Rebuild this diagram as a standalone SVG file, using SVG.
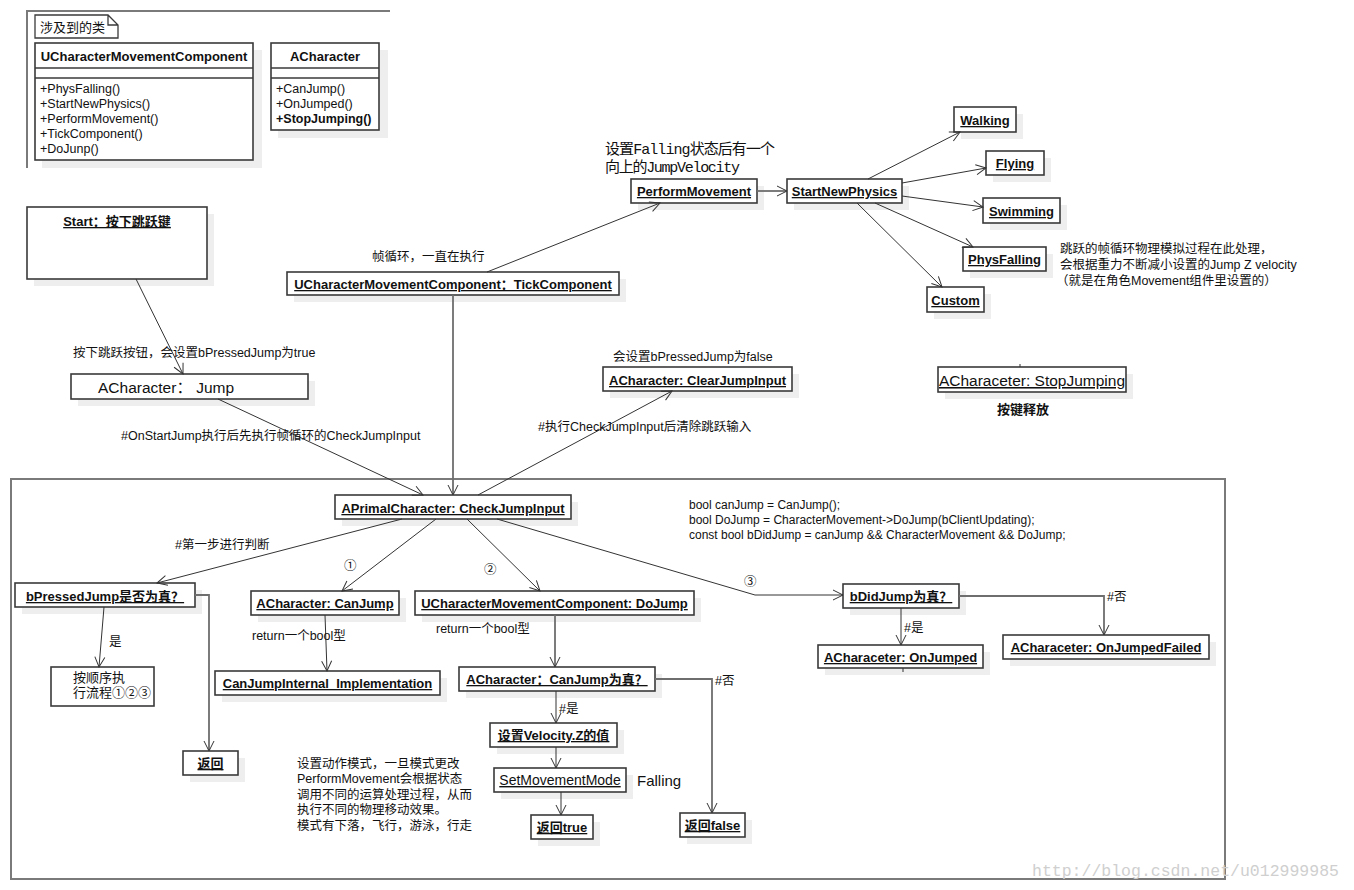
<svg xmlns="http://www.w3.org/2000/svg" width="1354" height="890" viewBox="0 0 1354 890">
<style>
text{font-family:"Liberation Sans",Arial,"Noto Sans CJK SC",sans-serif;fill:#111}
.b{font-weight:bold;font-size:13px;text-decoration:underline;text-anchor:middle}
.t{font-size:12.5px}
.m{font-size:12.5px}
.box{fill:#fff;stroke:#3a3a3a;stroke-width:1.6}
.sh{fill:#eeeeee}
.ln{fill:none;stroke:#333;stroke-width:1}
.lg{fill:none;stroke:#6e6e6e;stroke-width:1.8}
.frame{fill:none;stroke:#7a7a7a;stroke-width:2}
.mono{font-family:"Liberation Mono","Noto Sans CJK SC",monospace;font-size:15px}
</style>
<defs>
<marker id="a" markerUnits="userSpaceOnUse" markerWidth="14" markerHeight="14" refX="11" refY="6" orient="auto">
<path d="M1,1 L11,6 L1,11" fill="none" stroke="#333" stroke-width="1"/>
</marker>
</defs>
<rect width="1354" height="890" fill="#fff"/>

<!-- frames -->
<path class="frame" d="M27,168 L27,11 L390,11"/>
<rect class="frame" x="11" y="479" width="1214" height="400"/>

<!-- classes -->
<g id="note-classes">
<path d="M35,15 L108,15 L118,25 L118,38 L35,38 Z M108,15 L108,25 L118,25" fill="#fff" stroke="#3a3a3a" stroke-width="1.3"/>
<text x="40" y="32" font-size="13">涉及到的类</text>
</g>
<g id="class-ucmc">
<rect class="sh" x="42" y="50" width="220" height="118"/>
<rect class="box" x="35" y="43" width="218" height="117"/>
<line x1="35" y1="68" x2="253" y2="68" stroke="#3a3a3a" stroke-width="1.4"/>
<line x1="35" y1="78" x2="253" y2="78" stroke="#3a3a3a" stroke-width="1.4"/>
<text x="144" y="61" font-size="13" font-weight="bold" text-anchor="middle">UCharacterMovementComponent</text>
<text x="40" y="93" class="m">+PhysFalling()</text>
<text x="40" y="108" class="m">+StartNewPhysics()</text>
<text x="40" y="123" class="m">+PerformMovement()</text>
<text x="40" y="138" class="m">+TickComponent()</text>
<text x="40" y="153" class="m">+DoJunp()</text>
</g>
<g id="class-acharacter">
<rect class="sh" x="278" y="50" width="110" height="88"/>
<rect class="box" x="271" y="43" width="108" height="87"/>
<line x1="271" y1="68" x2="379" y2="68" stroke="#3a3a3a" stroke-width="1.4"/>
<line x1="271" y1="78" x2="379" y2="78" stroke="#3a3a3a" stroke-width="1.4"/>
<text x="325" y="61" font-size="13" font-weight="bold" text-anchor="middle">ACharacter</text>
<text x="276" y="93" class="m">+CanJump()</text>
<text x="276" y="108" class="m">+OnJumped()</text>
<text x="276" y="123" class="m" font-weight="bold">+StopJumping()</text>
</g>

<!-- nodes -->
<g id="start">
<rect class="sh" x="34" y="214" width="180" height="72"/>
<rect class="box" x="27" y="207" width="180" height="72"/>
<text class="b" x="117" y="226">Start：按下跳跃键</text>
</g>
<g id="jump">
<rect class="sh" x="78" y="381" width="237" height="25"/>
<rect class="box" x="71" y="374" width="237" height="25"/>
<text x="98" y="393" font-size="15.5">ACharacter：  Jump</text>
</g>
<g id="tick">
<rect class="sh" x="294" y="279" width="332" height="23"/>
<rect class="box" x="287" y="272" width="332" height="23"/>
<text class="b" x="453" y="289">UCharacterMovementComponent：TickComponent</text>
</g>
<g id="perform">
<rect class="sh" x="638" y="186" width="126" height="24"/>
<rect class="box" x="631" y="179" width="126" height="24"/>
<text class="b" x="694" y="196">PerformMovement</text>
</g>
<g id="startnew">
<rect class="sh" x="794" y="186" width="115" height="24"/>
<rect class="box" x="787" y="179" width="115" height="24"/>
<text class="b" x="844.5" y="196">StartNewPhysics</text>
</g>
<g id="walking">
<rect class="sh" x="961" y="114" width="62" height="25"/>
<rect class="box" x="954" y="107" width="62" height="25"/>
<text class="b" x="985" y="125">Walking</text>
</g>
<g id="flying">
<rect class="sh" x="993" y="158" width="58" height="24"/>
<rect class="box" x="986" y="151" width="58" height="24"/>
<text class="b" x="1015" y="168">Flying</text>
</g>
<g id="swimming">
<rect class="sh" x="990" y="205" width="77" height="25"/>
<rect class="box" x="983" y="198" width="77" height="25"/>
<text class="b" x="1021.5" y="216">Swimming</text>
</g>
<g id="physfalling">
<rect class="sh" x="970" y="254" width="83" height="24"/>
<rect class="box" x="963" y="247" width="83" height="24"/>
<text class="b" x="1004.5" y="264">PhysFalling</text>
</g>
<g id="custom">
<rect class="sh" x="934" y="294" width="57" height="25"/>
<rect class="box" x="927" y="287" width="57" height="25"/>
<text class="b" x="955.5" y="305">Custom</text>
</g>
<g id="clearjump">
<rect class="sh" x="610" y="374" width="189" height="24"/>
<rect class="box" x="603" y="367" width="189" height="24"/>
<text class="b" x="697.5" y="385">ACharacter:  ClearJumpInput</text>
</g>
<g id="stopjumping">
<rect class="sh" x="945" y="374" width="188" height="25"/>
<rect class="box" x="938" y="367" width="188" height="25"/>
<text x="1032" y="386" font-size="15.5" text-anchor="middle" text-decoration="underline">ACharaceter: StopJumping</text>
</g>
<g id="checkjump">
<rect class="sh" x="342" y="502" width="236" height="24"/>
<rect class="box" x="335" y="495" width="236" height="24"/>
<text class="b" x="453" y="513">APrimalCharacter: CheckJumpInput</text>
</g>
<g id="bpressed">
<rect class="sh" x="22" y="590" width="180" height="24"/>
<rect class="box" x="15" y="583" width="180" height="24"/>
<text class="b" x="105" y="601">bPressedJump是否为真？</text>
</g>
<g id="inorder">
<rect class="box" x="51" y="667" width="103" height="39"/>
<text x="73" y="682" font-size="13">按顺序执</text>
<text x="73" y="697" font-size="13">行流程①②③</text>
</g>
<g id="return1">
<rect class="sh" x="190" y="758" width="55" height="24"/>
<rect class="box" x="183" y="751" width="55" height="24"/>
<text class="b" x="210.5" y="768">返回</text>
</g>
<g id="canjump">
<rect class="sh" x="258" y="598" width="148" height="24"/>
<rect class="box" x="251" y="591" width="148" height="24"/>
<text class="b" x="325" y="608">ACharacter: CanJump</text>
</g>
<g id="canjumpinternal">
<rect class="sh" x="222" y="678" width="225" height="24"/>
<rect class="box" x="215" y="671" width="225" height="24"/>
<text class="b" x="327.5" y="688">CanJumpInternal_Implementation</text>
</g>
<g id="dojump">
<rect class="sh" x="422" y="598" width="279" height="24"/>
<rect class="box" x="415" y="591" width="279" height="24"/>
<text class="b" x="554.5" y="608">UCharacterMovementComponent: DoJump</text>
</g>
<g id="canjumptrue">
<rect class="sh" x="466" y="674" width="196" height="24"/>
<rect class="box" x="459" y="667" width="196" height="24"/>
<text class="b" x="557" y="684">ACharacter：CanJump为真？</text>
</g>
<g id="setvelocity">
<rect class="sh" x="497" y="730" width="127" height="24"/>
<rect class="box" x="490" y="723" width="127" height="24"/>
<text class="b" x="553.5" y="740">设置Velocity.Z的值</text>
</g>
<g id="setmovementmode">
<rect class="sh" x="501" y="775" width="132" height="24"/>
<rect class="box" x="494" y="768" width="132" height="24"/>
<text x="560" y="785" font-size="14" text-anchor="middle" text-decoration="underline">SetMovementMode</text>
</g>
<g id="returntrue">
<rect class="sh" x="538" y="822" width="62" height="24"/>
<rect class="box" x="531" y="815" width="62" height="24"/>
<text class="b" x="562" y="832">返回true</text>
</g>
<g id="returnfalse">
<rect class="sh" x="687" y="820" width="65" height="24"/>
<rect class="box" x="680" y="813" width="65" height="24"/>
<text class="b" x="712.5" y="830">返回false</text>
</g>
<g id="bdidjump">
<rect class="sh" x="850" y="591" width="116" height="24"/>
<rect class="box" x="843" y="584" width="116" height="24"/>
<text class="b" x="901" y="601">bDidJump为真？</text>
</g>
<g id="onjumped">
<rect class="sh" x="825" y="652" width="165" height="23"/>
<rect class="box" x="818" y="645" width="165" height="23"/>
<text class="b" x="900.5" y="662">ACharaceter: OnJumped</text>
</g>
<g id="onjumpedfailed">
<rect class="sh" x="1010" y="642" width="206" height="24"/>
<rect class="box" x="1003" y="635" width="206" height="24"/>
<text class="b" x="1106" y="652">ACharaceter: OnJumpedFailed</text>
</g>

<!-- connectors -->
<g id="connectors">
<line class="ln" x1="136" y1="279" x2="183" y2="374" marker-end="url(#a)"/>
<line class="ln" x1="218" y1="399" x2="423" y2="495" marker-end="url(#a)"/>
<line class="lg" x1="453" y1="295" x2="453" y2="495" marker-end="url(#a)"/>
<line class="ln" x1="487" y1="272" x2="660" y2="203" marker-end="url(#a)"/>
<line class="lg" x1="757" y1="191" x2="787" y2="191" marker-end="url(#a)"/>
<line class="ln" x1="868" y1="179" x2="960" y2="132" marker-end="url(#a)"/>
<line class="ln" x1="902" y1="183" x2="986" y2="168" marker-end="url(#a)"/>
<line class="ln" x1="902" y1="196" x2="983" y2="207" marker-end="url(#a)"/>
<line class="ln" x1="875" y1="203" x2="973" y2="247" marker-end="url(#a)"/>
<line class="ln" x1="857" y1="203" x2="942" y2="287" marker-end="url(#a)"/>
<line class="ln" x1="478" y1="495" x2="672" y2="391" marker-end="url(#a)"/>
<line class="ln" x1="402" y1="519" x2="157" y2="583" marker-end="url(#a)"/>
<line class="ln" x1="436" y1="519" x2="342" y2="591" marker-end="url(#a)"/>
<line class="ln" x1="467" y1="519" x2="540" y2="591" marker-end="url(#a)"/>
<polyline class="ln" points="497,519 755,595 843,595" marker-end="url(#a)"/>
<polyline class="lg" points="195,595 209,595 209,751" marker-end="url(#a)"/>
<line class="ln" x1="104" y1="607" x2="99" y2="667" marker-end="url(#a)"/>
<line class="ln" x1="325" y1="615" x2="327" y2="671" marker-end="url(#a)"/>
<line class="lg" x1="555" y1="615" x2="555" y2="667" marker-end="url(#a)"/>
<polyline class="lg" points="655,679 712,679 712,813" marker-end="url(#a)"/>
<line class="ln" x1="556" y1="691" x2="556" y2="723" marker-end="url(#a)"/>
<line class="ln" x1="556" y1="747" x2="556" y2="768" marker-end="url(#a)"/>
<line class="ln" x1="561" y1="792" x2="561" y2="815" marker-end="url(#a)"/>
<line class="ln" x1="901" y1="608" x2="901" y2="645" marker-end="url(#a)"/>
<polyline class="lg" points="959,596 1104,596 1104,635" marker-end="url(#a)"/>
<line class="ln" x1="1020" y1="364" x2="1020" y2="367"/>
<line class="ln" x1="903" y1="668" x2="903" y2="672"/>
</g>

<!-- labels -->
<g id="labels">
<text class="t" x="372" y="261">帧循环，一直在执行</text>
<text class="mono" x="605" y="154" textLength="170">设置Falling状态后有一个</text>
<text class="mono" x="605" y="172" textLength="135">向上的JumpVelocity</text>
<text class="t" x="1060" y="253">跳跃的帧循环物理模拟过程在此处理，</text>
<text class="t" x="1060" y="269">会根据重力不断减小设置的Jump Z velocity</text>
<text class="t" x="1056" y="285">（就是在角色Movement组件里设置的）</text>
<text class="t" x="73" y="357">按下跳跃按钮，会设置bPressedJump为true</text>
<text class="t" x="121" y="440">#OnStartJump执行后先执行帧循环的CheckJumpInput</text>
<text class="t" x="613" y="361">会设置bPressedJump为false</text>
<text class="t" x="538" y="431">#执行CheckJumpInput后清除跳跃输入</text>
<text x="1023" y="414" font-size="13" font-weight="bold" text-anchor="middle">按键释放</text>
<text x="689" y="509" font-size="12">bool canJump = CanJump();</text>
<text x="689" y="524" font-size="12">bool DoJump = CharacterMovement-&gt;DoJump(bClientUpdating);</text>
<text x="689" y="539" font-size="12">const bool bDidJump = canJump &amp;&amp; CharacterMovement &amp;&amp; DoJump;</text>
<text class="t" x="175" y="549">#第一步进行判断</text>
<text class="t" x="344" y="570">①</text>
<text class="t" x="484" y="574">②</text>
<text class="t" x="744" y="586">③</text>
<text class="t" x="109" y="646">是</text>
<text class="t" x="252" y="640">return一个bool型</text>
<text class="t" x="436" y="633">return一个bool型</text>
<text class="t" x="715" y="685">#否</text>
<text class="t" x="559" y="713">#是</text>
<text class="t" x="904" y="632">#是</text>
<text class="t" x="1107" y="601">#否</text>
<text x="637" y="786" font-size="15">Falling</text>
<text class="t" x="297" y="768">设置动作模式，一旦模式更改</text>
<text class="t" x="297" y="783">PerformMovement会根据状态</text>
<text class="t" x="297" y="799">调用不同的运算处理过程，从而</text>
<text class="t" x="297" y="814">执行不同的物理移动效果。</text>
<text class="t" x="297" y="830">模式有下落，飞行，游泳，行走</text>
<text x="1032" y="876" font-size="16.5" style="fill:#cfcfcf;font-family:'Liberation Mono',monospace">http://blog.csdn.net/u012999985</text>
</g>
</svg>
